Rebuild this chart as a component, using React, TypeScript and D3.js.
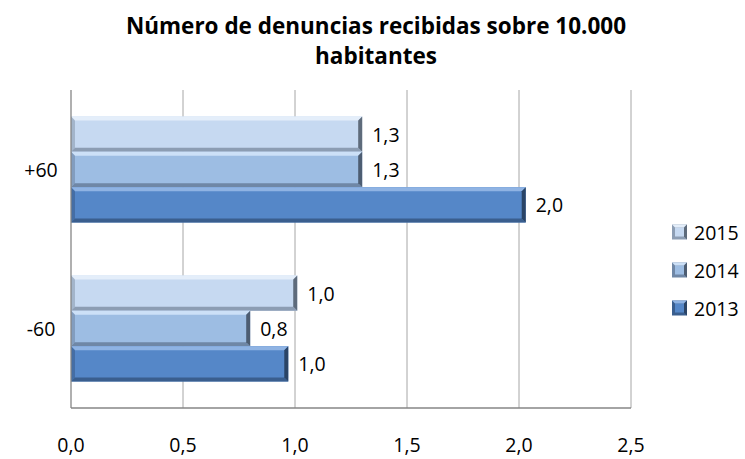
import React from "react";
import * as d3 from "d3";

const categories = ["+60", "-60"];
const seriesNames = ["2015", "2014", "2013"];
const values2015 = [1.3, 1.01];
const values2014 = [1.3, 0.8];
const values2013 = [2.03, 0.97];
const labels2015 = ["1,3", "1,0"];
const labels2014 = ["1,3", "0,8"];
const labels2013 = ["2,0", "1,0"];
const xTicks = [0, 0.5, 1, 1.5, 2, 2.5];
const titleLines = ["Número de denuncias recibidas sobre 10.000", "habitantes"];

const seriesValues = [values2015, values2014, values2013];
const seriesLabels = [labels2015, labels2014, labels2013];
const colors = [
  { main: "#C6D9F1", light: "#E4EEFA", dark: "#8C9DB3", edge: "#5E6B7B" },
  { main: "#9DBDE3", light: "#CCE0F7", dark: "#6F87A6", edge: "#4D5D72" },
  { main: "#5587C8", light: "#8FB3E3", dark: "#3A5E8E", edge: "#2A4466" },
];

const W = 745, H = 459;
const left = 71, right = 631, top = 90, bottom = 408;
const font = "'Open Sans', sans-serif";
const fs = 19.5;

export default function App() {
  const x = d3.scaleLinear().domain([0, 2.5]).range([left, right]);
  const y0 = d3.scaleBand().domain(categories).range([top, bottom]);
  const y1 = d3.scaleBand().domain(seriesNames).range([0, y0.bandwidth()]).paddingInner(0).paddingOuter(0.75);
  const bh = y1.bandwidth();
  const fmtTick = (v: number) => d3.format(".1f")(v).replace(".", ",");

  return (
    <svg width={W} height={H} style={{ position: "absolute", left: 0, top: 0 }}>
      <rect width={W} height={H} fill="#fff" />
      {titleLines.map((t, i) => (
        <text key={i} x={376} y={34 + i * 30} textAnchor="middle" fontFamily={font} fontWeight="bold" fontSize={22.5} letterSpacing={0} fill="#000">
          {t}
        </text>
      ))}
      {xTicks.slice(1).map((t) => (
        <line key={t} x1={x(t)} x2={x(t)} y1={top} y2={bottom} stroke="#A6A6A6" strokeWidth={1} />
      ))}
      {categories.map((c, ci) =>
        seriesNames.map((s, si) => {
          const v = seriesValues[si][ci];
          const yy = y0(c)! + y1(s)!;
          const xe = x(v);
          const col = colors[si];
          const wdt = xe - left;
          const bev = 4;
          return (
            <g key={c + s}>
              <rect x={left} y={yy} width={wdt} height={bh} fill={col.main} />
              <polygon points={`${left},${yy} ${xe},${yy} ${xe - bev},${yy + bev} ${left + bev},${yy + bev}`} fill={col.light} />
              <polygon points={`${left},${yy + bh} ${xe},${yy + bh} ${xe - bev},${yy + bh - bev} ${left + bev},${yy + bh - bev}`} fill={col.dark} />
              <polygon points={`${xe},${yy} ${xe},${yy + bh} ${xe - bev},${yy + bh - bev} ${xe - bev},${yy + bev}`} fill={col.edge} />
              <polygon points={`${left},${yy} ${left},${yy + bh} ${left + bev},${yy + bh - bev} ${left + bev},${yy + bev}`} fill={col.dark} opacity={0.6} />
              <text x={xe + 10} y={yy + bh / 2 + 7.5} fontFamily={font} fontSize={fs} fill="#000">
                {seriesLabels[si][ci]}
              </text>
            </g>
          );
        })
      )}
      <line x1={left} x2={left} y1={top} y2={bottom} stroke="#868686" strokeWidth={1.3} />
      <line x1={left} x2={right} y1={bottom} y2={bottom} stroke="#868686" strokeWidth={1.3} />
      {xTicks.map((t) => (
        <text key={t} x={x(t)} y={452} textAnchor="middle" fontFamily={font} fontSize={fs} fill="#000">
          {fmtTick(t)}
        </text>
      ))}
      {categories.map((c) => (
        <text key={c} x={41} y={y0(c)! + y0.bandwidth() / 2 + 7.5} textAnchor="middle" fontFamily={font} fontSize={fs} fill="#000">
          {c}
        </text>
      ))}
      {seriesNames.map((s, i) => {
        const ly = 232 + i * 38;
        const col = colors[i];
        const sx = 672, sz = 15;
        return (
          <g key={s}>
            <rect x={sx} y={ly - sz / 2} width={sz} height={sz} fill={col.dark} />
            <rect x={sx + 3} y={ly - sz / 2 + 3} width={sz - 6} height={sz - 6} fill={col.main} />
            <polygon points={`${sx},${ly - sz / 2} ${sx + sz},${ly - sz / 2} ${sx + sz - 3},${ly - sz / 2 + 3} ${sx + 3},${ly - sz / 2 + 3}`} fill={col.light} />
            <polygon points={`${sx + sz},${ly - sz / 2} ${sx + sz},${ly + sz / 2} ${sx + sz - 3},${ly + sz / 2 - 3} ${sx + sz - 3},${ly - sz / 2 + 3}`} fill={col.edge} />
            <text x={694} y={ly + 7.5} fontFamily={font} fontSize={fs} fill="#000">
              {s}
            </text>
          </g>
        );
      })}
    </svg>
  );
}
